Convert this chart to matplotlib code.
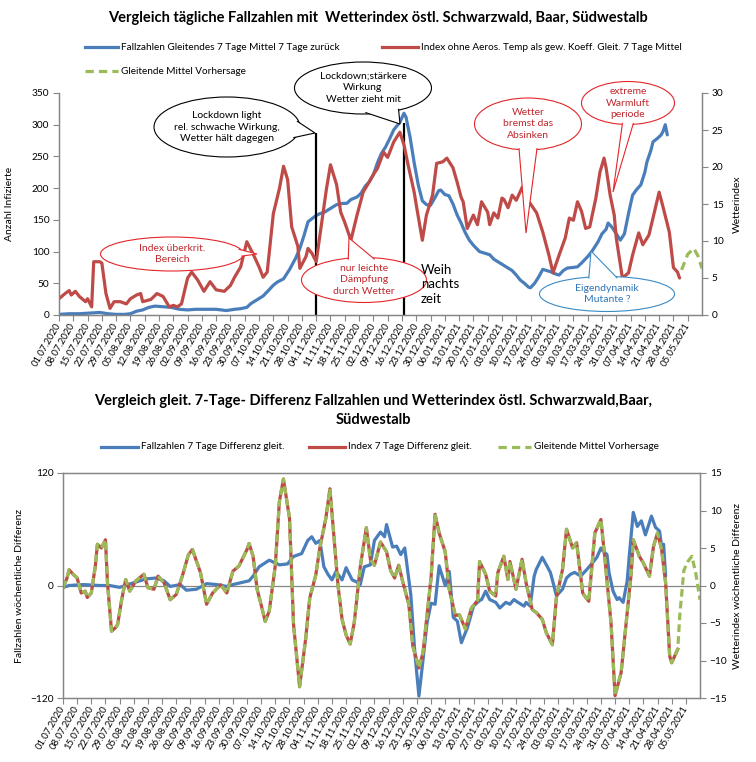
import numpy as np
import matplotlib
matplotlib.use('Agg')
import matplotlib.pyplot as plt
import matplotlib.dates as mdates
from matplotlib.patches import Ellipse, Polygon
from matplotlib.lines import Line2D

plt.rcParams['font.family'] = ['Lato', 'DejaVu Sans']

# ==================== data (days after 01.07.2020) ====================
START = np.datetime64('2020-07-01')

# top chart: cases, 7-day moving mean
top_days_cases = [0, 5, 10, 15, 20, 24, 28, 32, 35, 38, 41, 44, 47, 51, 55, 59, 63, 67, 72, 77,
                  82, 86, 89, 92, 94, 97, 100, 103, 105, 107, 110, 113, 116, 118, 120, 122, 124,
                  126, 128, 130, 133, 136, 139, 141, 143, 146, 148, 150, 152, 154, 156, 158, 160,
                  162, 164, 166, 167, 169, 170, 172, 174, 176, 178, 180, 182, 184, 186, 187, 189,
                  191, 193, 195, 197, 199, 201, 203, 206, 208, 211, 213, 215, 217, 219, 222, 224,
                  226, 228, 230, 231, 233, 235, 237, 239, 241, 243, 245, 247, 249, 252, 254, 256,
                  259, 261, 264, 266, 268, 269, 271, 273, 275, 277, 279, 281, 283, 285, 287, 288,
                  290, 291, 293, 295, 296, 297, 298]
top_cases = [1, 2, 2, 3, 4, 2, 1, 1, 2, 6, 8, 12, 14, 13, 12, 9, 8, 9, 9, 9,
             7, 9, 10, 12, 18, 24, 30, 40, 47, 52, 57, 72, 90, 105, 125, 147, 152,
             157, 160, 162, 168, 174, 176, 176, 182, 186, 192, 203, 210, 221, 240, 255, 265,
             278, 292, 300, 304, 318, 312, 280, 240, 205, 180, 174, 173, 184, 196, 197, 190,
             188, 175, 158, 145, 130, 118, 110, 100, 98, 95, 88, 84, 80, 76, 70, 63,
             55, 50, 44, 43, 50, 60, 72, 70, 68, 65, 63, 70, 74, 75, 76, 82,
             92, 100, 115, 128, 135, 145, 138, 128, 118, 128, 160, 189, 198, 205, 225, 241,
             260, 273, 278, 284, 290, 300, 284]

# top chart: weather index, 7-day moving mean
top_days_index = [0, 3, 5, 6, 8, 10, 13, 14, 16, 17, 20, 21, 23, 25, 27, 30, 33, 35, 38, 40,
                  41, 45, 48, 51, 54, 56, 58, 60, 63, 65, 68, 71, 74, 77, 81, 84, 86, 89, 92,
                  95, 98, 100, 102, 105, 108, 110, 112, 114, 117, 118, 121, 122, 124, 126, 129,
                  131, 133, 136, 138, 140, 141, 143, 146, 149, 152, 154, 156, 159, 161, 164, 167,
                  169, 171, 174, 175, 178, 180, 183, 185, 188, 190, 193, 195, 197, 198, 200, 203,
                  205, 207, 210, 211, 213, 215, 217, 218, 220, 222, 224, 227, 229, 232, 234, 237,
                  240, 242, 245, 248, 250, 252, 254, 256, 258, 260, 263, 265, 267, 268, 270, 272,
                  273, 275, 276, 279, 281, 284, 286, 289, 291, 294, 296, 299, 301, 303, 304]
top_index = [2.2, 2.9, 3.3, 2.7, 3.2, 2.5, 1.8, 2.2, 1.1, 7.2, 7.2, 7.0, 2.9, 0.9, 1.8, 1.8, 1.5, 2.2, 2.7, 2.9,
             1.8, 2.1, 2.9, 2.5, 1.1, 1.3, 1.1, 1.5, 5.0, 5.8, 4.7, 3.2, 4.5, 3.4, 3.2, 4.0, 5.1, 6.5, 9.9,
             8.3, 6.5, 5.1, 5.8, 13.7, 17.1, 20.1, 18.3, 11.9, 9.3, 6.3, 7.9, 9.0, 8.3, 7.2, 13.1,
             17.0, 20.3, 17.6, 13.9, 12.5, 11.7, 10.1, 13.5, 16.6, 18.0, 19.0, 19.8, 22.0, 21.3, 23.4, 24.7,
             23.0, 20.3, 16.6, 14.9, 10.1, 13.5, 16.2, 20.5, 20.7, 21.2, 19.9, 18.0, 15.9, 15.3, 11.7, 13.5,
             12.2, 15.3, 13.9, 12.2, 13.8, 13.1, 15.8, 15.6, 14.5, 16.2, 15.5, 17.3, 15.8, 14.6, 13.8, 11.2,
             8.1, 5.7, 8.1, 10.4, 13.1, 12.8, 15.3, 14.0, 11.7, 11.9, 15.8, 19.3, 21.2, 19.9, 16.2, 13.5,
             10.4, 6.8, 5.0, 5.7, 8.1, 11.1, 9.5, 10.8, 13.1, 16.6, 14.5, 11.2, 6.4, 5.8, 5.0]

# top chart: forecast of the index
top_days_fc = [305, 308, 311, 313, 315]
top_fc = [6.1, 8.2, 9.0, 8.0, 6.3]

# bottom chart: weekly difference of cases
bot_days_cases = [0, 3, 10, 18, 23, 28, 35, 41, 46, 50, 53, 58, 61, 66, 71, 76, 81, 84, 88, 92,
                  94, 97, 102, 107, 111, 114, 118, 121, 123, 125, 127, 129, 131, 133, 135, 138, 140,
                  143, 145, 147, 149, 152, 154, 157, 159, 160, 163, 165, 167, 169, 172, 174, 176,
                  178, 180, 182, 184, 186, 189, 191, 193, 195, 197, 200, 203, 206, 207, 209, 211,
                  214, 216, 219, 221, 223, 225, 228, 229, 231, 233, 234, 237, 238, 241, 242, 244,
                  247, 249, 251, 253, 256, 259, 261, 264, 266, 267, 269, 270, 272, 274, 275, 277,
                  279, 280, 282, 284, 286, 288, 291, 293, 295, 296, 297, 298]
bot_cases = [-2, 0, 1, 0, 0, -2, 3, 7, 8, 5, -1, 1, -5, -4, 2, 1, -1, 1, 3, 5,
             10, 20, 27, 22, 23, 31, 34, 48, 52, 45, 48, 20, 12, 6, 15, 6, 19,
             6, 4, 1, 20, 22, 48, 57, 52, 65, 41, 42, 33, 40, -10, -72, -118,
             -80, -40, -19, -20, 21, 0, 15, -34, -38, -61, -45, -22, -16, -15, -6, -15,
             -18, -24, -18, -20, -15, -18, -22, -18, -22, 10, 17, 30, 26, 14, 6, -11,
             -4, 8, 12, 14, 10, 17, 22, 30, 40, 37, 33, 14, -6, -15, -13, -18,
             5, 31, 78, 63, 69, 54, 74, 62, 58, 42, 44, 10]

# bottom chart: weekly difference of the index
bot_days_index = [0, 2, 3, 5, 7, 9, 11, 12, 14, 16, 17, 19, 21, 22, 24, 26, 27, 29, 31, 33,
                  36, 40, 42, 45, 47, 50, 53, 56, 59, 62, 64, 68, 71, 74, 78, 81, 84, 87, 91,
                  92, 94, 96, 98, 100, 102, 105, 107, 109, 112, 114, 117, 120, 122, 125, 127,
                  130, 132, 134, 136, 138, 140, 142, 144, 147, 150, 152, 154, 157, 160, 162, 164,
                  166, 168, 171, 173, 176, 178, 180, 182, 184, 186, 189, 191, 194, 196, 199, 202,
                  205, 206, 209, 211, 214, 215, 218, 220, 221, 224, 227, 229, 232, 234, 237, 239,
                  242, 244, 247, 249, 252, 254, 257, 258, 260, 263, 266, 268, 271, 273, 276, 278,
                  281, 282, 285, 287, 290, 292, 294, 296, 298, 300, 301, 304]
bot_index = [-0.3, 1.0, 2.1, 1.5, 1.0, -1.0, -0.75, -1.6, -1.0, 2.6, 5.5, 5.0, 6.1, 0.35, -6.1, -5.6, -5.2, -1.9, 0.8, -0.75,
             0.6, 1.5, -0.3, -0.5, 1.25, 0.35, -1.9, -1.2, 1.25, 4.1, 4.8, 1.7, -2.5, -1.0, 0.1, -1.0, 1.9, 2.6, 4.8,
             5.6, 3.9, -0.5, -2.6, -4.8, -3.4, 2.7, 11.2, 14.2, 9.0, -5.2, -13.5, -7.1, -1.7, 1.4, 5.0,
             9.0, 12.9, 6.5, 0.0, -4.5, -6.6, -7.8, -5.0, 2.5, 7.7, 3.5, 2.7, 5.8, 4.5, 2.0, 1.0,
             2.7, 0.5, -2.5, -8.1, -11.0, -9.0, -4.0, 1.0, 9.5, 7.0, 4.5, -0.5, -4.0, -3.9, -5.8, -3.0,
             -2.0, 3.2, 1.5, -0.75, -1.4, 1.7, 3.9, 0.8, 3.2, -0.5, 3.5, 0.35, -3.2, -3.6, -4.5, -6.3,
             -7.9, -1.6, 2.1, 7.5, 5.0, 5.7, -1.0, -1.4, -2.1, 7.0, 8.8, 3.5, -5.0, -14.7, -11.6, -6.3,
             1.7, 6.1, 3.9, 3.0, 1.25, 5.2, 7.0, 4.8, 0.35, -9.4, -10.3, -8.5]

# bottom chart: forecast continuation after the last index value
bot_days_fc = [305, 307, 309, 311, 313, 315]
bot_fc = [-4.0, 2.0, 3.2, 3.9, 1.5, -1.9]

week_ticks = list(range(0, 309, 7))


def to_dates(days):
    return START + np.array(days, dtype='timedelta64[D]')


# ==================== figure ====================
W, H = 756, 762
fig = plt.figure(figsize=(W / 100, H / 100), dpi=100)


def fx(x):
    return x / W


def fy(y):
    return 1 - y / H


BLUE = '#4a7ebb'
RED = '#be4b48'
GREEN = '#9bbb59'
GRAY = '#868686'


def style_axes(ax, axr):
    ax.set_xlim(START, START + np.timedelta64(315, 'D'))
    ax.set_xticks(to_dates(week_ticks))
    ax.xaxis.set_major_formatter(mdates.DateFormatter('%d.%m.%Y'))
    for lab in ax.get_xticklabels():
        lab.set_rotation(60)
        lab.set_ha('right')
        lab.set_va('center')
        lab.set_rotation_mode('anchor')
    for a in (ax, axr):
        a.tick_params(axis='both', labelsize=7.3, length=4, width=0.8, color=GRAY, pad=3)
        for s in a.spines.values():
            s.set_color(GRAY)
            s.set_linewidth(0.9)
    ax.tick_params(axis='x', labelsize=6.9, pad=2)


# ---------- top chart ----------
ax1 = fig.add_axes([fx(59), fy(315), (702 - 59) / W, (315 - 93) / H])
ax1r = ax1.twinx()
ax1.plot(to_dates(top_days_cases), top_cases, color=BLUE, lw=2.3, solid_capstyle='round')
ax1r.plot(to_dates(top_days_index), top_index, color=RED, lw=2.3, solid_capstyle='round')
ax1r.plot(to_dates(top_days_fc), top_fc, color=GREEN, lw=2.3, ls=(0, (2.6, 1.6)))
ax1.set_ylim(0, 350)
ax1.set_yticks(range(0, 351, 50))
ax1r.set_ylim(0, 30)
ax1r.set_yticks(range(0, 31, 5))
style_axes(ax1, ax1r)
for a in (ax1, ax1r):
    a.spines['top'].set_visible(False)
ax1.set_ylabel('Anzahl Infizierte', fontsize=7.5)
ax1.yaxis.set_label_coords((14 - 59) / 643, 0.5)
ax1r.set_ylabel('Wetterindex', fontsize=7.5)
ax1r.yaxis.set_label_coords((733 - 59) / 643, 0.5)

# lockdown marker lines
ax1.vlines(to_dates([126]), 0, 287, color='black', lw=1.6)
ax1.vlines(to_dates([169]), 0, 303, color='black', lw=1.6)

# ---------- bottom chart ----------
ax2 = fig.add_axes([fx(63), fy(698), (700 - 63) / W, (698 - 473) / H])
ax2r = ax2.twinx()
ax2.axhline(0, color=GRAY, lw=0.9)
ax2.plot(to_dates(bot_days_cases), bot_cases, color=BLUE, lw=2.3, solid_capstyle='round')
ax2r.plot(to_dates(bot_days_index), bot_index, color=RED, lw=2.3)
ax2r.plot(to_dates(bot_days_index + bot_days_fc), bot_index + bot_fc, color=GREEN, lw=2.3,
          ls=(0, (2.4, 1.3)))
ax2.set_ylim(-120, 120)
ax2.set_yticks([-120, 0, 120])
ax2r.set_ylim(-15, 15)
ax2r.set_yticks(range(-15, 16, 5))
style_axes(ax2, ax2r)
ax2.set_ylabel('Fallzahlen wöchentliche Differenz', fontsize=7.5)
ax2.yaxis.set_label_coords((24 - 63) / 637, 0.5)
ax2r.set_ylabel('Wetterindex wöchentliche Differenz', fontsize=7.5)
ax2r.yaxis.set_label_coords((733 - 63) / 637, 0.5)

# ---------- titles ----------
fig.text(fx(378), fy(18), 'Vergleich tägliche Fallzahlen mit  Wetterindex östl. Schwarzwald, Baar, Südwestalb',
         ha='center', va='center', fontsize=10.5, fontweight='bold')
fig.text(fx(373), fy(401), 'Vergleich gleit. 7-Tage- Differenz Fallzahlen und Wetterindex östl. Schwarzwald,Baar,',
         ha='center', va='center', fontsize=10.5, fontweight='bold')
fig.text(fx(373), fy(420), 'Südwestalb', ha='center', va='center', fontsize=10.5, fontweight='bold')


# ---------- legends ----------
def legend_entry(x0, x1, y, color, label, dashed=False):
    ls = (0, (2.6, 1.6)) if dashed else '-'
    fig.add_artist(Line2D([fx(x0), fx(x1)], [fy(y), fy(y)], transform=fig.transFigure,
                          color=color, lw=2.3, ls=ls))
    fig.text(fx(x1 + 3), fy(y), label, ha='left', va='center', fontsize=7.2)


legend_entry(85, 118, 47, BLUE, 'Fallzahlen Gleitendes 7 Tage Mittel 7 Tage zurück')
legend_entry(382, 418, 47, RED, 'Index ohne Aeros. Temp als gew. Koeff. Gleit. 7 Tage Mittel')
legend_entry(85, 118, 71, GREEN, 'Gleitende Mittel Vorhersage', dashed=True)
legend_entry(101, 138, 447, BLUE, 'Fallzahlen 7 Tage Differenz gleit.')
legend_entry(309, 345, 447, RED, 'Index 7 Tage Differenz gleit.')
legend_entry(498, 531, 447, GREEN, 'Gleitende Mittel Vorhersage', dashed=True)


# ---------- callouts ----------
def callout(cx, cy, w, h, text, edge, tcolor, angles, tip, fs=7.5):
    fig.add_artist(Ellipse((fx(cx), fy(cy)), w / W, h / H, transform=fig.transFigure,
                           facecolor='white', edgecolor=edge, lw=0.8))
    pts = []
    for a in angles:
        r = np.deg2rad(a)
        pts.append((cx + (w / 2 - 1.5) * np.cos(r), cy - (h / 2 - 1.5) * np.sin(r)))
    poly = [(fx(pts[0][0]), fy(pts[0][1])), (fx(tip[0]), fy(tip[1])), (fx(pts[1][0]), fy(pts[1][1]))]
    fig.add_artist(Polygon(poly, closed=False, transform=fig.transFigure,
                           facecolor='white', edgecolor=edge, lw=0.8))
    fig.text(fx(cx), fy(cy), text, ha='center', va='center', color=tcolor, fontsize=fs,
             linespacing=1.35)


CRED = '#e3262a'
TRED = '#c0282d'
CBLUE = '#3a8ac6'
TBLUE = '#2e75b6'

callout(227, 127, 146, 60, 'Lockdown light\nrel. schwache Wirkung,\nWetter hält dagegen',
        'black', 'black', (12, -22), (315, 133))
callout(363, 88, 137, 52, 'Lockdown;stärkere\nWirkung\nWetter zieht mit',
        'black', 'black', (-88, -58), (400, 124))
callout(172, 254, 143, 34, 'Index überkrit.\nBereich', CRED, TRED, (18, -8), (257, 254))
callout(364, 280, 125, 45, 'nur leichte\nDämpfung\ndurch Wetter', CRED, TRED, (105, 80), (349, 238))
callout(528, 124, 107, 52, 'Wetter\nbremst das\nAbsinken', CRED, TRED, (-100, -80), (526, 233))
callout(628, 103, 93, 43, 'extreme\nWarmluft\nperiode', CRED, TRED, (-97, -83), (613, 192))
callout(607, 294, 135, 35, 'Eigendynamik\nMutante ?', CBLUE, TBLUE, (106, 81), (591, 251))

fig.text(fx(421), fy(284), 'Weih\nnachts\nzeit', ha='left', va='center', fontsize=9.5,
         linespacing=1.25)

fig.savefig('out.png', dpi=100)
